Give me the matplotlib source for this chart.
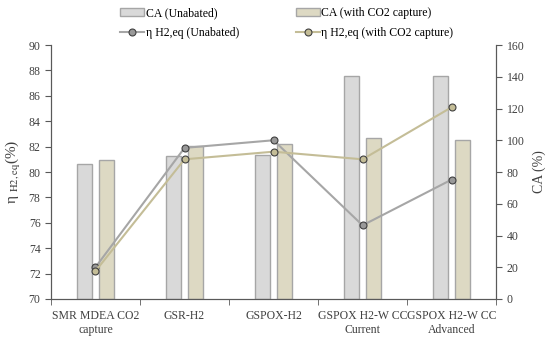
import numpy as np
from matplotlib import pyplot as plt

categories = ["SMR MDEA CO2\ncapture", "GSR-H2", "GSPOX-H2",
              "GSPOX H2-W CC\nCurrent", "GSPOX H2-W CC\nAdvanced"]
ca_unabated = [85.0, 90.0, 90.7, 140.7, 140.5]
ca_capture = [87.4, 96.2, 97.9, 101.2, 100.0]
eta_unabated = [72.5, 81.9, 82.5, 75.8, 79.4]
eta_capture = [72.2, 81.0, 81.6, 81.0, 85.1]

plt.rcParams['font.family'] = ['Liberation Serif', 'DejaVu Serif']
plt.rcParams['mathtext.fontset'] = 'stix'
plt.rcParams['font.size'] = 8.5

def main():
    fig = plt.figure(figsize=(5.5, 3.4), dpi=100)
    ax = fig.add_axes([0.0927, 0.1206, 0.8093, 0.747])
    ax2 = ax.twinx()

    x = np.arange(len(categories))
    w = 0.17
    b1 = ax2.bar(x - 0.127, ca_unabated, w, color='#d9d9d9', edgecolor='#a6a6a6',
                 linewidth=1, label='CA (Unabated)')
    b2 = ax2.bar(x + 0.127, ca_capture, w, color='#ddd9c3', edgecolor='#a6a6a6',
                 linewidth=1, label='CA (with CO2 capture)')

    l1, = ax.plot(x, eta_unabated, '-o', color='#a6a6a6', lw=1.5, ms=5,
                  mfc='#999999', mec='#404040', mew=0.8, label='η H2,eq (Unabated)')
    l2, = ax.plot(x, eta_capture, '-o', color='#c4bd97', lw=1.5, ms=5,
                  mfc='#c4bd97', mec='#404040', mew=0.8, label='η H2,eq (with CO2 capture)')

    # lines above the bars
    ax.set_zorder(ax2.get_zorder() + 1)
    ax.patch.set_visible(False)

    ax.set_xlim(-0.5, len(categories) - 0.5)
    ax.set_ylim(70, 90)
    ax.set_yticks(np.arange(70, 91, 2))
    ax2.set_ylim(0, 160)
    ax2.set_yticks(np.arange(0, 161, 20))

    ax.set_xticks(x)
    ax.set_xticklabels(categories)
    ax.set_xticks(np.arange(-0.5, len(categories), 1), minor=True)
    ax.tick_params(axis='x', which='major', length=0, pad=8)
    ax.tick_params(axis='x', which='minor', length=4, color='#595959')
    ax.tick_params(axis='y', length=4, color='#595959', labelcolor='#404040')
    ax2.tick_params(axis='y', length=4, color='#595959', labelcolor='#404040')
    for lab in ax.get_xticklabels():
        lab.set_color('#404040')

    for a in (ax, ax2):
        a.spines['top'].set_visible(False)
        for s in ('left', 'right', 'bottom'):
            a.spines[s].set_color('#595959')

    ax.set_ylabel(r'η $_{\mathrm{H2,eq}}$(%)', fontsize=11, color='#404040', labelpad=4)
    ax2.set_ylabel('CA (%)', fontsize=10, color='#404040', labelpad=6)

    fig.legend([b1, l1, b2, l2],
               [h.get_label() for h in (b1, l1, b2, l2)],
               ncol=2, loc='upper center', bbox_to_anchor=(0.521, 1.01),
               frameon=False, fontsize=8.5, columnspacing=4.8, handlelength=2.1,
               handletextpad=0.1, labelspacing=0.7)

    fig.savefig('out.png', dpi=100)

if __name__ == "__main__":
    main()
